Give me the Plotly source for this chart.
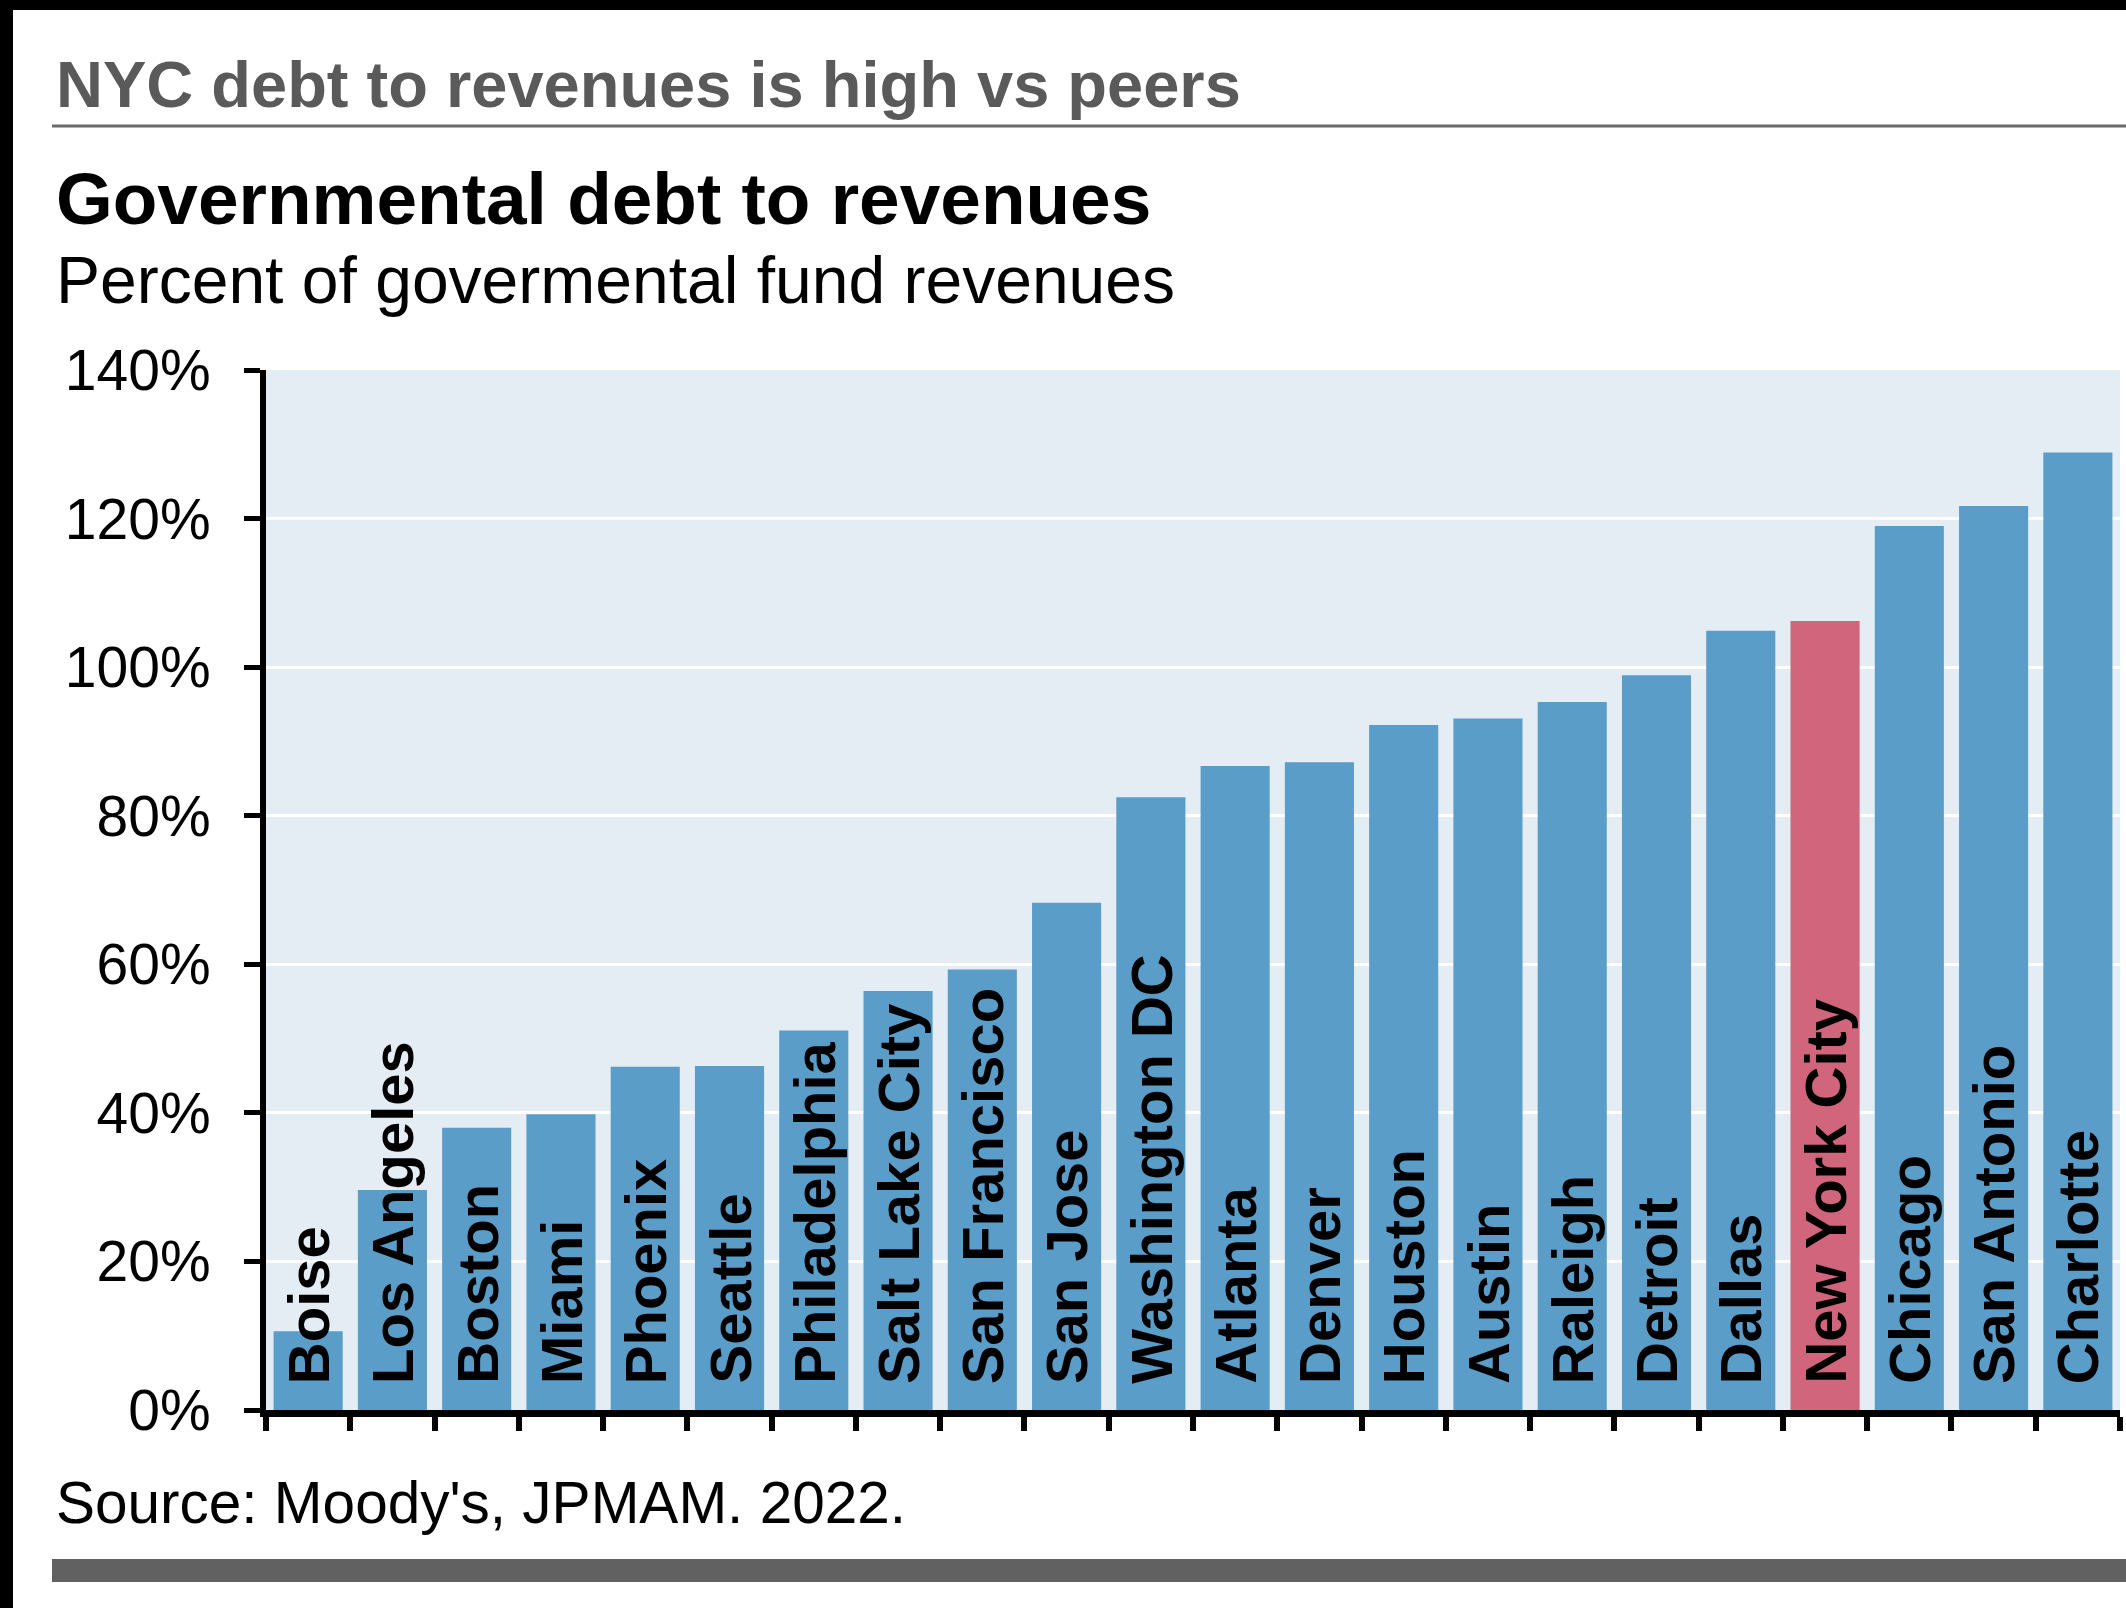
import plotly.graph_objects as go

cities = ["Boise", "Los Angeles", "Boston", "Miami", "Phoenix", "Seattle", "Philadelphia",
          "Salt Lake City", "San Francisco", "San Jose", "Washington DC", "Atlanta", "Denver",
          "Houston", "Austin", "Raleigh", "Detroit", "Dallas", "New York City", "Chicago",
          "San Antonio", "Charlotte"]
debt_pct = [10.6, 29.6, 38.0, 39.8, 46.2, 46.3, 51.1, 56.4, 59.3, 68.3, 82.5, 86.7, 87.2,
            92.2, 93.1, 95.3, 98.9, 104.9, 106.2, 119.0, 121.7, 128.9]
highlight = "New York City"
y_ticks = [0, 20, 40, 60, 80, 100, 120, 140]
y_tick_labels = ["0%", "20%", "40%", "60%", "80%", "100%", "120%", "140%"]

header = "NYC debt to revenues is high vs peers"
title = "Governmental debt to revenues"
subtitle = "Percent of govermental fund revenues"
source = "Source: Moody's, JPMAM. 2022."

BLUE = "#5A9DC8"
PINK = "#D0657B"
FONT = "Liberation Sans, Arial, sans-serif"

W, H = 2126, 1608
L, R, T, B = 266, 6, 370, 198
PW, PH = W - L - R, H - T - B


def fx(px):
    return (px - L) / PW


def fy(py):
    return (H - B - py) / PH


colors = [PINK if c == highlight else BLUE for c in cities]

fig = go.Figure()
fig.add_trace(go.Bar(x=cities, y=debt_pct, marker=dict(color=colors, line=dict(width=0)),
                     hoverinfo="x+y"))

annotations = []
for c in cities:
    annotations.append(dict(x=c, y=0, xref="x", yref="y", text=c, showarrow=False,
                            textangle=-90, xanchor="center", yanchor="bottom", yshift=24,
                            font=dict(family=FONT, size=58, color="black", weight="bold")))

annotations += [
    dict(x=fx(54), y=fy(84), xref="paper", yref="paper", text=header, showarrow=False,
         xanchor="left", yanchor="middle",
         font=dict(family=FONT, size=65, color="#5a5a5a", weight="bold")),
    dict(x=fx(54), y=fy(199), xref="paper", yref="paper", text=title, showarrow=False,
         xanchor="left", yanchor="middle",
         font=dict(family=FONT, size=73, color="black", weight="bold")),
    dict(x=fx(54), y=fy(280), xref="paper", yref="paper", text=subtitle, showarrow=False,
         xanchor="left", yanchor="middle",
         font=dict(family=FONT, size=66, color="black")),
    dict(x=fx(54), y=fy(1502), xref="paper", yref="paper", text=source, showarrow=False,
         xanchor="left", yanchor="middle",
         font=dict(family=FONT, size=58.5, color="black")),
]

shapes = [
    dict(type="line", xref="paper", yref="paper", x0=fx(52), x1=fx(W), y0=fy(126), y1=fy(126),
         line=dict(color="#6a6a6a", width=3)),
    dict(type="rect", xref="paper", yref="paper", x0=fx(52), x1=fx(W), y0=fy(1582), y1=fy(1559),
         fillcolor="#616161", line=dict(width=0)),
    dict(type="rect", xref="paper", yref="paper", x0=fx(0), x1=fx(13), y0=fy(H), y1=fy(0),
         fillcolor="black", line=dict(width=0)),
    dict(type="rect", xref="paper", yref="paper", x0=fx(0), x1=fx(W), y0=fy(10), y1=fy(0),
         fillcolor="black", line=dict(width=0)),
]

fig.update_layout(
    width=W, height=H,
    margin=dict(l=L, r=R, t=T, b=B, autoexpand=False),
    paper_bgcolor="white",
    plot_bgcolor="#E3EDF3",
    bargap=0.18,
    showlegend=False,
    annotations=annotations,
    shapes=shapes,
    font=dict(family=FONT, color="black"),
)
fig.update_xaxes(type="category", showticklabels=False, tickson="boundaries",
                 ticks="outside", ticklen=14, tickwidth=6, tickcolor="black",
                 showline=True, linecolor="black", linewidth=7, showgrid=False, zeroline=False)
fig.update_yaxes(range=[0, 140], tickvals=y_ticks, ticktext=y_tick_labels,
                 ticks="outside", ticklen=16, tickwidth=5, tickcolor="black",
                 showline=True, linecolor="black", linewidth=6,
                 showgrid=True, gridcolor="white", gridwidth=3, zeroline=False,
                 tickfont=dict(family=FONT, size=57, color="black"), ticklabelstandoff=22)

fig.write_html("out.html")
